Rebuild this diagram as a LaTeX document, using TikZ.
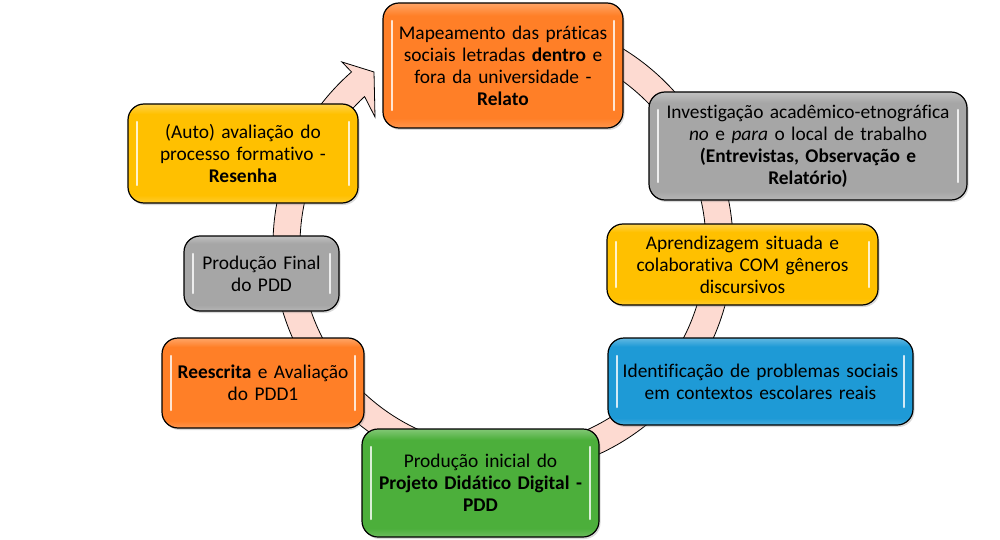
\documentclass[tikz,border=0pt]{standalone}
\usepackage{fontspec}
\setmainfont{Carlito}[Ligatures={TeX,CommonOff}]
\usetikzlibrary{shadows}
\definecolor{corange}{HTML}{FF7F27}
\definecolor{cyellow}{HTML}{FFC000}
\definecolor{cgray}{HTML}{A6A6A6}
\definecolor{cblue}{HTML}{1E9AD6}
\definecolor{cgreen}{HTML}{4CAF3B}
\definecolor{ringpink}{HTML}{FDDAD1}
\colorlet{basecol}{gray}
\pgfdeclareverticalshading[basecol]{gloss}{100bp}{color(0bp)=(basecol!82!white); color(25bp)=(basecol!82!white); color(29bp)=(basecol); color(70bp)=(basecol); color(75bp)=(basecol!70!white); color(100bp)=(basecol!70!white)}
\tikzset{
  boxcol/.code={\colorlet{basecol}{#1}},
  box/.style={draw=black, line width=1.2pt, rounded corners=16pt, align=center,
    font=\fontsize{19.4}{22}\selectfont, inner sep=0pt,
    drop shadow={opacity=0.3, shadow xshift=1.5pt, shadow yshift=-2pt},
    shading=gloss,
    path picture={
      \draw[white, opacity=0.8, line width=2.5pt, line cap=round]
        ([xshift=9pt,yshift=-18pt]path picture bounding box.north west) --
        ([xshift=9pt,yshift=18pt]path picture bounding box.south west);
      \draw[white, opacity=0.8, line width=2.5pt, line cap=round]
        ([xshift=-9pt,yshift=-18pt]path picture bounding box.north east) --
        ([xshift=-9pt,yshift=18pt]path picture bounding box.south east);
    }},
  ring/.style={fill=ringpink, draw=black, line width=0.8pt, line join=miter}
}
\begin{document}
\begin{tikzpicture}[x=1pt,y=1pt]
\useasboundingbox (0,0) rectangle (1000,539);
\coordinate (c) at (503,294);
% circular arrow
\path[ring] ([shift={(c)}]100:230) arc[start angle=100, end angle=-228.8, radius=230]
  -- (342,477) -- (374,467) -- (375,422)
  -- ([shift={(c)}]-227:203) arc[start angle=-227, end angle=100, radius=203] -- cycle;
% nodes
\node[box, boxcol=corange, minimum width=240pt, minimum height=125pt, text width=236pt] (n1) at (503,473.5)
  {Mapeamento das práticas\\sociais letradas \textbf{dentro} e\\fora da universidade -\\\textbf{Relato}};
\node[box, boxcol=cgray, minimum width=318pt, minimum height=108pt, text width=316pt] (n2) at (808,393)
  {Investigação acadêmico-etnográfica\\\textit{no} e \textit{para} o local de trabalho\\\textbf{(Entrevistas, Observação e}\\\textbf{Relatório)}};
\node[box, boxcol=cyellow, minimum width=271pt, minimum height=81pt, text width=267pt] (n3) at (742.5,274.5)
  {Aprendizagem situada e\\colaborativa COM gêneros\\discursivos};
\node[box, boxcol=cblue, minimum width=305pt, minimum height=87pt, text width=302pt] (n4) at (760.5,157.5)
  {Identificação de problemas sociais\\em contextos escolares reais};
\node[box, boxcol=cgreen, minimum width=237pt, minimum height=108pt, text width=234pt] (n5) at (480.5,56)
  {Produção inicial do\\\textbf{Projeto Didático Digital -}\\\textbf{PDD}};
\node[box, boxcol=corange, minimum width=202pt, minimum height=90pt, text width=200pt] (n6) at (263,156)
  {\textbf{Reescrita} e Avaliação\\do PDD1};
\node[box, boxcol=cgray, minimum width=155pt, minimum height=75pt, text width=152pt] (n7) at (261.5,265.5)
  {Produção Final\\do PDD};
\node[box, boxcol=cyellow, minimum width=230pt, minimum height=99pt, text width=226pt] (n8) at (243,385.5)
  {(Auto) avaliação do\\processo formativo -\\\textbf{Resenha}};
\end{tikzpicture}
\end{document}
